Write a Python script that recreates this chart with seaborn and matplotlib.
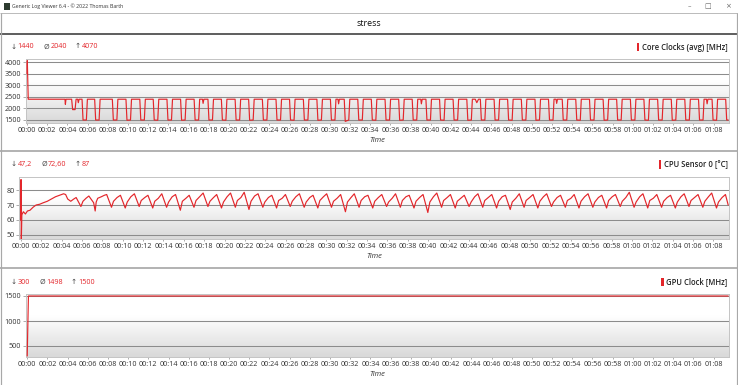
"""
Recreation of a Generic Log Viewer screenshot: core clock, CPU temperature
and GPU clock logged during a stress run, three stacked time panels.
"""

import matplotlib
matplotlib.use("Agg")
import matplotlib.pyplot as plt
import numpy as np
import pandas as pd
import seaborn as sns
from matplotlib.lines import Line2D
from matplotlib.patches import Rectangle
from matplotlib.ticker import FuncFormatter

W, H = 738, 385
RED = "#e3262b"
XLIM = (-0.15, 69.5)

WINDOW_TITLE = "Generic Log Viewer 6.4 - © 2022 Thomas Barth"
SESSION_TITLE = "stress"
TIME_TICKS = list(range(0, 69, 2))

# ---------------- panel 1: core clocks (avg) [MHz] ----------------
clock_t = [
    0.00, 0.03, 0.12, 3.76, 3.80, 3.86, 4.42, 4.52, 4.76, 4.86, 5.02,
    5.08, 5.16, 5.45, 5.55, 5.88, 5.98, 6.70, 6.80, 7.14, 7.24,
    8.45, 8.55, 8.90, 9.00,
    9.80, 9.90, 10.25, 10.35,
    11.17, 11.27, 11.62, 11.72,
    12.50, 12.60, 12.95, 13.05,
    13.86, 13.96, 14.31, 14.41,
    15.21, 15.31, 15.66, 15.76,
    16.55, 16.65, 17.00, 17.10, 17.38, 17.44, 17.52,
    17.92, 18.02, 18.37, 18.47,
    19.25, 19.35, 19.70, 19.80,
    20.61, 20.71, 21.06, 21.16,
    21.95, 22.05, 22.40, 22.50,
    23.31, 23.41, 23.76, 23.86,
    24.66, 24.76, 25.11, 25.21,
    26.00, 26.10, 26.45, 26.55,
    27.37, 27.47, 27.82, 27.92,
    28.71, 28.81, 29.16, 29.26,
    30.05, 30.15, 30.50, 30.60, 30.80, 30.86, 30.94,
    31.42, 31.52, 31.87, 31.97,
    32.76, 32.86, 33.21, 33.31,
    34.10, 34.20, 34.55, 34.65,
    35.46, 35.56, 35.91, 36.01,
    36.81, 36.91, 37.26, 37.36,
    38.15, 38.25, 38.60, 38.70, 39.00, 39.06, 39.14,
    39.51, 39.61, 39.96, 40.06,
    40.86, 40.96, 41.31, 41.41,
    42.20, 42.30, 42.65, 42.75,
    43.56, 43.66, 44.01, 44.11, 44.40, 44.55, 44.72,
    44.90, 45.00, 45.35, 45.45,
    46.26, 46.36, 46.71, 46.81,
    47.60, 47.70, 48.05, 48.15,
    48.96, 49.06, 49.41, 49.51,
    50.31, 50.41, 50.76, 50.86,
    51.65, 51.75, 52.10, 52.20, 52.40, 52.46, 52.54,
    53.01, 53.11, 53.46, 53.56,
    54.35, 54.45, 54.80, 54.90,
    55.71, 55.81, 56.16, 56.26,
    57.06, 57.16, 57.51, 57.61,
    58.40, 58.50, 58.85, 58.95,
    59.76, 59.86, 60.21, 60.31,
    61.10, 61.20, 61.55, 61.65,
    62.46, 62.56, 62.91, 63.01,
    63.81, 63.91, 64.26, 64.36,
    65.15, 65.25, 65.60, 65.70,
    66.51, 66.61, 66.96, 67.06, 67.30, 67.36, 67.44,
    67.85, 67.95, 68.30, 68.40,
    69.20, 69.30, 69.45,
]
clock_mhz = [
    3500, 4070, 2400, 2400, 2180, 2400, 2400, 1950, 1950, 2400, 2400,
    2250, 2400, 2400, 1500, 1500, 2400, 2400, 1500, 1500, 2400,
    2400, 1500, 1500, 2400,
    2400, 1490, 1500, 2400,
    2400, 1500, 1500, 2400,
    2400, 1500, 1490, 2400,
    2400, 1500, 1500, 2400,
    2400, 1490, 1500, 2400,
    2400, 1500, 1500, 2400, 2400, 2220, 2400,
    2400, 1500, 1500, 2400,
    2400, 1500, 1490, 2400,
    2400, 1500, 1500, 2400,
    2400, 1490, 1500, 2400,
    2400, 1500, 1500, 2400,
    2400, 1500, 1500, 2400,
    2400, 1500, 1490, 2400,
    2400, 1500, 1500, 2400,
    2400, 1490, 1500, 2400,
    2400, 1500, 1500, 2400, 2400, 2200, 2400,
    2400, 1440, 1500, 2400,
    2400, 1500, 1500, 2400,
    2400, 1500, 1490, 2400,
    2400, 1500, 1500, 2400,
    2400, 1490, 1500, 2400,
    2400, 1500, 1500, 2400, 2400, 2200, 2400,
    2400, 1500, 1500, 2400,
    2400, 1500, 1490, 2400,
    2400, 1500, 1500, 2400,
    2400, 1490, 1500, 2400, 2400, 2250, 2400,
    2400, 1500, 1500, 2400,
    2400, 1500, 1500, 2400,
    2400, 1500, 1490, 2400,
    2400, 1500, 1500, 2400,
    2400, 1490, 1500, 2400,
    2400, 1500, 1500, 2400, 2400, 2220, 2400,
    2400, 1500, 1500, 2400,
    2400, 1500, 1490, 2400,
    2400, 1500, 1500, 2400,
    2400, 1490, 1500, 2400,
    2400, 1500, 1500, 2400,
    2400, 1500, 1500, 2400,
    2400, 1500, 1490, 2400,
    2400, 1500, 1500, 2400,
    2400, 1490, 1500, 2400,
    2400, 1500, 1500, 2400,
    2400, 1500, 1500, 2400, 2400, 2200, 2400,
    2400, 1500, 1490, 2400,
    2400, 1500, 1500,
]

# ---------------- panel 2: CPU sensor 0 [°C] ----------------
temp_t = [
    0.00, 0.02, 0.05, 0.10, 0.25, 0.45, 0.65, 0.90, 1.20, 1.50, 1.85,
    2.20, 2.60, 3.00, 3.40, 3.80, 4.20, 4.40, 4.60, 4.90, 5.20, 5.43,
    5.90, 6.10, 6.40, 6.68, 7.15, 7.30, 7.40, 7.55, 7.90, 8.20,
    8.43, 8.90, 9.10, 9.45,
    9.78, 10.25, 10.45, 10.80,
    11.15, 11.62, 11.82, 12.17,
    12.48, 12.95, 13.15, 13.50,
    13.84, 14.31, 14.51, 14.86,
    15.19, 15.66, 15.86, 16.21,
    16.53, 17.00, 17.20, 17.55,
    17.90, 18.37, 18.57, 18.92,
    19.23, 19.70, 19.90, 20.25,
    20.59, 21.06, 21.26, 21.61,
    21.93, 22.40, 22.60, 22.95,
    23.29, 23.76, 23.96, 24.31,
    24.64, 25.11, 25.31, 25.66,
    25.98, 26.45, 26.65, 27.00,
    27.35, 27.82, 28.02, 28.37,
    28.69, 29.16, 29.36, 29.71,
    30.03, 30.50, 30.70, 31.05,
    31.40, 31.87, 32.07, 32.42,
    32.74, 33.21, 33.41, 33.76,
    34.08, 34.55, 34.75, 35.10,
    35.44, 35.91, 36.11, 36.46,
    36.79, 37.26, 37.46, 37.81,
    38.13, 38.60, 38.80, 39.15,
    39.49, 39.96, 40.16, 40.51,
    40.84, 41.31, 41.51, 41.86,
    42.18, 42.65, 42.85, 43.20,
    43.54, 44.01, 44.21, 44.56,
    44.88, 45.35, 45.55, 45.90,
    46.24, 46.71, 46.91, 47.26,
    47.58, 48.05, 48.25, 48.60,
    48.94, 49.41, 49.61, 49.96,
    50.29, 50.76, 50.96, 51.31,
    51.63, 52.10, 52.30, 52.65,
    52.99, 53.46, 53.66, 54.01,
    54.33, 54.80, 55.00, 55.35,
    55.69, 56.16, 56.36, 56.71,
    57.04, 57.51, 57.71, 58.06,
    58.38, 58.85, 59.05, 59.40,
    59.74, 60.21, 60.41, 60.76,
    61.08, 61.55, 61.75, 62.10,
    62.44, 62.91, 63.11, 63.46,
    63.79, 64.26, 64.46, 64.81,
    65.13, 65.60, 65.80, 66.15,
    66.49, 66.96, 67.16, 67.51,
    67.83, 68.30, 68.50, 68.85,
    69.18, 69.45,
]
temp_c = [
    60.0, 87.0, 47.2, 63.5, 65.5, 64.0, 66.0, 66.5, 68.5, 70.0, 70.5,
    71.5, 72.5, 74.0, 75.5, 76.5, 77.5, 77.0, 74.0, 72.5, 74.0, 75.0,
    69.0, 72.5, 74.5, 76.0, 71.5, 66.0, 72.0, 74.5, 75.5, 76.5,
    77.0, 68.5, 72.5, 75.0,
    76.5, 68.0, 72.0, 75.5,
    77.5, 69.0, 73.0, 75.0,
    76.5, 68.0, 72.5, 74.5,
    77.5, 68.5, 72.0, 75.5,
    77.0, 66.5, 72.5, 74.5,
    76.5, 68.5, 73.0, 75.5,
    78.0, 69.0, 72.5, 75.0,
    77.0, 68.0, 72.0, 75.5,
    78.0, 68.5, 73.0, 75.0,
    78.5, 67.0, 72.5, 76.0,
    77.5, 68.5, 72.0, 75.0,
    76.5, 68.0, 73.0, 74.5,
    77.0, 69.0, 72.5, 75.5,
    77.5, 68.5, 72.0, 75.0,
    76.5, 68.0, 73.0, 75.5,
    77.5, 68.5, 72.5, 74.5,
    77.0, 65.5, 72.0, 75.0,
    77.5, 68.5, 73.0, 75.5,
    76.5, 68.0, 72.5, 75.0,
    77.0, 69.0, 72.0, 74.5,
    77.5, 68.5, 73.0, 75.5,
    76.5, 68.0, 72.5, 75.0,
    77.0, 65.0, 72.0, 75.5,
    78.0, 68.5, 73.0, 75.0,
    77.0, 68.0, 72.5, 74.5,
    76.5, 69.0, 72.0, 75.5,
    77.5, 68.5, 73.0, 75.0,
    77.0, 68.0, 72.5, 75.5,
    76.5, 67.0, 72.0, 74.5,
    77.5, 68.5, 73.0, 75.0,
    77.0, 68.0, 72.5, 75.5,
    77.5, 69.0, 72.0, 75.0,
    76.5, 68.5, 73.0, 74.5,
    77.0, 68.0, 72.5, 75.5,
    77.5, 68.5, 72.0, 75.0,
    76.5, 68.0, 73.0, 75.5,
    77.0, 69.0, 72.5, 75.0,
    78.5, 68.5, 72.0, 75.5,
    77.5, 68.0, 73.0, 74.5,
    77.0, 68.5, 72.5, 75.0,
    76.5, 68.0, 72.0, 75.5,
    77.5, 69.0, 73.0, 75.0,
    77.0, 68.5, 72.5, 75.5,
    78.0, 68.0, 72.0, 75.0,
    77.0, 70.0,
]

# ---------------- panel 3: GPU clock [MHz] ----------------
gpu_t = [0.00, 0.12, 69.45]
gpu_mhz = [300, 1500, 1500]

# header stats per panel: min, avg, max
panel_names = ["Core Clocks (avg) [MHz]", "CPU Sensor 0 [°C]", "GPU Clock [MHz]"]
stat_min = ["1440", "47,2", "300"]
stat_avg = ["2040", "72,60", "1498"]
stat_max = ["4070", "87", "1500"]
y_ticks = [[1500, 2000, 2500, 3000, 3500, 4000], [50, 60, 70, 80], [500, 1000, 1500]]
y_limits = [(1357, 4143), (47.1, 88.9), (286, 1534)]


def fy(y):
    return 1 - y / H


def px_axes(fig, x0, y0, x1, y1):
    return fig.add_axes([x0 / W, 1 - y1 / H, (x1 - x0) / W, (y1 - y0) / H])


def hline(fig, y, x0, x1, color, lw_px):
    fig.add_artist(Line2D([x0 / W, x1 / W], [fy(y), fy(y)], transform=fig.transFigure,
                          color=color, lw=lw_px * 0.72, solid_capstyle="butt"))


def vline(fig, x, y0, y1, color, lw_px):
    fig.add_artist(Line2D([x / W, x / W], [fy(y0), fy(y1)], transform=fig.transFigure,
                          color=color, lw=lw_px * 0.72, solid_capstyle="butt"))


def gradient_bg(ax):
    # white upper part fading to light grey at the bottom of the plot area
    frac = np.linspace(0, 1, 256)
    shade = np.where(frac < 0.35, 1.0, 1.0 - (frac - 0.35) / 0.65 * 0.15)
    img = np.dstack([np.repeat(shade[:, None], 2, axis=1)] * 3)
    ax.imshow(img, extent=(0, 1, 0, 1), transform=ax.transAxes, aspect="auto",
              zorder=0, interpolation="bilinear")


def mmss(v, pos):
    v = int(round(v))
    return f"{v // 60:02d}:{v % 60:02d}"


def draw_panel(ax, df, col, yticks, ylim):
    gradient_bg(ax)
    sns.lineplot(data=df, x="t", y=col, ax=ax, color=RED, linewidth=0.85,
                 estimator=None, sort=False, zorder=3)
    ax.set_xlim(XLIM)
    ax.set_ylim(ylim)
    ax.set_xticks(TIME_TICKS)
    ax.set_yticks(yticks)
    ax.xaxis.set_major_formatter(FuncFormatter(mmss))
    ax.set_xlabel("")
    ax.set_ylabel("")
    ax.grid(axis="y", color="#8c8c8c", lw=0.75)
    ax.grid(axis="x", visible=False)
    for sp in ax.spines.values():
        sp.set_color("#c4c4c4")
        sp.set_linewidth(0.7)
    ax.tick_params(axis="y", length=2.2, width=0.5, color="#8c8c8c", pad=1.0,
                   labelsize=5.2, labelcolor="#333333", left=True)
    ax.tick_params(axis="x", length=1.4, width=0.5, color="#8c8c8c", pad=1.6,
                   labelsize=5.2, labelcolor="#333333", bottom=True)


def stats_row(fig, renderer, x, y, parts):
    for text, color, gap in parts:
        t = fig.text(x / W, fy(y), text, color=color, fontsize=5.2, va="center", ha="left")
        x += t.get_window_extent(renderer).width + gap


def main():
    sns.set_style("white")
    plt.rcParams["font.family"] = ["Open Sans", "DejaVu Sans"]

    fig = plt.figure(figsize=(W / 100, H / 100), dpi=100)
    fig.patch.set_facecolor("white")
    renderer = fig.canvas.get_renderer()

    # ---------------- window chrome ----------------
    fig.add_artist(Rectangle((4 / W, fy(9.5)), 6 / W, 6 / H, transform=fig.transFigure,
                             facecolor="#2d3b2f", edgecolor="none"))
    fig.text(12.5 / W, fy(6.5), WINDOW_TITLE, fontsize=3.7, color="#333333", va="center")
    for bx, glyph in [(689, "–"), (708, "□"), (727.5, "×")]:
        fig.text(bx / W, fy(6.5), glyph, fontsize=5, color="#666666", ha="center", va="center",
                 family=["DejaVu Sans"])
    hline(fig, 13, 0, W, "#bcbcbc", 1)
    fig.text(369 / W, fy(23.5), SESSION_TITLE, fontsize=6.4, color="#111111",
             ha="center", va="center")
    hline(fig, 34, 0, W, "#3a3a3a", 1.6)
    hline(fig, 151.2, 0, W, "#b4b4b4", 2)
    hline(fig, 267.8, 0, W, "#b4b4b4", 2)
    vline(fig, 0.8, 13, H, "#a8a8a8", 1.2)
    vline(fig, 737.2, 13, H, "#a8a8a8", 1.2)
    hline(fig, 384.5, 0, W, "#a8a8a8", 1)

    # ---------------- panels ----------------
    clock_df = pd.DataFrame({"t": clock_t, "mhz": clock_mhz})
    temp_df = pd.DataFrame({"t": temp_t, "degc": temp_c})
    gpu_df = pd.DataFrame({"t": gpu_t, "mhz": gpu_mhz})

    boxes = [(25.5, 59.0, 728.7, 123.3), (19.3, 176.7, 728.7, 239.3), (25.7, 294.3, 728.7, 356.7)]
    frames = [(clock_df, "mhz"), (temp_df, "degc"), (gpu_df, "mhz")]
    header_y = [47.0, 164.5, 282.0]
    time_y = [140.0, 257.0, 375.0]

    for i, ((x0, y0, x1, y1), (df, col)) in enumerate(zip(boxes, frames)):
        ax = px_axes(fig, x0, y0, x1, y1)
        draw_panel(ax, df, col, y_ticks[i], y_limits[i])
        fig.text((x0 + x1) / 2 / W, fy(time_y[i]), "Time", fontsize=5.4, style="italic",
                 color="#333333", ha="center", va="center")

        stats_row(fig, renderer, 10.5, header_y[i], [
            ("↓", "#444444", 1.2), (stat_min[i], RED, 9.0),
            ("Ø", "#444444", 1.2), (stat_avg[i], RED, 8.0),
            ("↑", "#444444", 1.2), (stat_max[i], RED, 0),
        ])

        lab = fig.text(727.5 / W, fy(header_y[i]), panel_names[i], fontsize=5.5,
                       fontweight="semibold", color="#222222", ha="right", va="center")
        bb = lab.get_window_extent(renderer)
        fig.add_artist(Rectangle(((bb.x0 - 5) / W, fy(header_y[i] + 4.2)), 2.4 / W, 8.4 / H,
                                 transform=fig.transFigure, facecolor=RED, edgecolor="none"))

    fig.savefig("out.png", dpi=100)
    plt.close(fig)


if __name__ == "__main__":
    main()
